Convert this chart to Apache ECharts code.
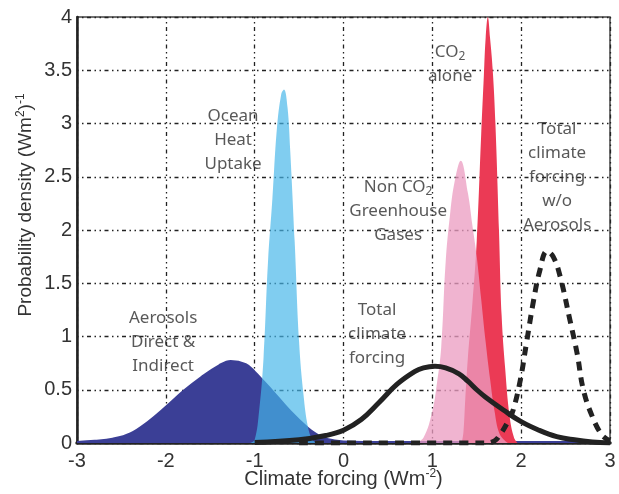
<!DOCTYPE html>
<html><head><meta charset="utf-8">
<script src="https://cdn.jsdelivr.net/npm/echarts@6/dist/echarts.min.js"></script>
<style>html,body{margin:0;padding:0;background:#fff}#c{width:619px;height:494px}</style>
</head><body><div id="c"></div>
<script>
// ---- data ----
const xTicks = [-3, -2, -1, 0, 1, 2, 3];
const yTicks = [0, 0.5, 1, 1.5, 2, 2.5, 3, 3.5, 4];

const aerosolX = [-3, -2.8, -2.6, -2.4, -2.2, -2.0, -1.8, -1.6, -1.4, -1.27, -1.1, -1.0, -0.9, -0.8, -0.6, -0.4, -0.3, -0.2, 0, 0.5, 3];
const aerosolY = [0.01, 0.02, 0.04, 0.09, 0.2, 0.34, 0.49, 0.62, 0.73, 0.77, 0.74, 0.67, 0.58, 0.49, 0.3, 0.14, 0.08, 0.04, 0.015, 0.01, 0.01];

const oceanX = [-1.05, -1.0, -0.95, -0.9, -0.85, -0.8, -0.75, -0.7, -0.67, -0.63, -0.6, -0.55, -0.5, -0.45, -0.4, -0.35, -0.3];
const oceanY = [0, 0.03, 0.3, 0.8, 1.7, 2.3, 2.95, 3.28, 3.32, 3.15, 2.75, 1.9, 0.95, 0.45, 0.15, 0.03, 0];

const co2X = [1.33, 1.35, 1.37, 1.4, 1.45, 1.5, 1.55, 1.58, 1.6, 1.625, 1.65, 1.68, 1.71, 1.75, 1.78, 1.82, 1.87, 1.92, 1.96];
const co2Y = [0, 0.1, 0.4, 0.8, 1.3, 1.9, 2.9, 3.45, 3.8, 4.0, 3.8, 3.5, 3.0, 2.0, 1.2, 0.7, 0.25, 0.05, 0];

const nonCo2X = [0.8, 0.9, 1.0, 1.05, 1.1, 1.15, 1.2, 1.25, 1.32, 1.4, 1.45, 1.5, 1.55, 1.6, 1.65, 1.7, 1.76, 1.85];
const nonCo2Y = [0, 0.05, 0.3, 0.55, 0.9, 1.7, 2.15, 2.45, 2.65, 2.35, 2.05, 1.75, 1.35, 0.95, 0.6, 0.3, 0.08, 0];

const totalX = [-1, -0.5, -0.2, 0, 0.2, 0.4, 0.6, 0.8, 0.9, 1.03, 1.15, 1.3, 1.4, 1.5, 1.6, 1.8, 2.0, 2.2, 2.4, 2.6, 2.8, 3];
const totalY = [0.005, 0.03, 0.07, 0.12, 0.22, 0.38, 0.55, 0.67, 0.705, 0.72, 0.705, 0.65, 0.58, 0.5, 0.43, 0.31, 0.2, 0.12, 0.06, 0.03, 0.01, 0];

const noAerosolX = [-0.5, 1.6, 1.7, 1.76, 1.85, 1.91, 1.99, 2.06, 2.14, 2.21, 2.29, 2.36, 2.44, 2.55, 2.63, 2.7, 2.8, 2.91, 3.0];
const noAerosolY = [0, 0, 0.02, 0.075, 0.2, 0.31, 0.59, 0.94, 1.34, 1.62, 1.8, 1.75, 1.56, 1.15, 0.84, 0.5, 0.25, 0.075, 0.02];

const labelX = [-1.243, 1.2, 0.615, 2.405, -2.03, 0.378];
const labelY = [2.845, 3.56, 2.18, 2.50, 0.95, 1.02];
const labelText = [
  'Ocean\nHeat\nUptake',
  'CO{s|2}\nalone',
  'Non CO{s|2}\nGreenhouse\nGases',
  'Total\nclimate\nforcing\nw/o\nAerosols',
  'Aerosols\nDirect &\nIndirect',
  'Total\nclimate\nforcing'
];

const xName = 'Climate forcing (Wm{sup|-2})';
const yName = 'Probability density (Wm{sup|2}){sup|-1}';

// ---- build ----
const pairs = (xs, ys) => xs.map((x, i) => [x, ys[i]]);
const gridLine = { show: true, lineStyle: { color: '#222', width: 1.3, type: [1.5, 3.5, 1.5, 3.5, 4, 3.5] } };
const tickFont = { fontFamily: 'Liberation Sans', fontSize: 20, color: '#333' };
const supStyle = { fontFamily: 'Liberation Sans', fontSize: 12, color: '#333', padding: [0, 0, 10, 0] };

const chart = echarts.init(document.getElementById('c'), null, { renderer: 'canvas' });
chart.setOption({
  animation: false,
  backgroundColor: '#fff',
  grid: { left: 77, right: 9, top: 17, bottom: 51, show: true, borderColor: '#444', borderWidth: 1.5,
    backgroundColor: 'transparent', containLabel: false, outerBoundsMode: 'none' },
  xAxis: {
    type: 'value', min: xTicks[0], max: xTicks[xTicks.length - 1], interval: 1,
    axisLine: { show: true, onZero: false, lineStyle: { color: '#222', width: 3.5 } },
    axisTick: { show: false },
    axisLabel: Object.assign({ margin: 8 }, tickFont),
    splitLine: gridLine,
    name: xName, nameLocation: 'middle', nameGap: 25, nameMoveOverlap: false,
    nameTextStyle: { fontFamily: 'Liberation Sans', fontSize: 20, color: '#333', rich: { sup: supStyle } }
  },
  yAxis: {
    type: 'value', min: yTicks[0], max: yTicks[yTicks.length - 1], interval: 0.5,
    axisLine: { show: true, onZero: false, lineStyle: { color: '#222', width: 2.5 } },
    axisTick: { show: false },
    axisLabel: Object.assign({ margin: 5 }, tickFont),
    splitLine: gridLine,
    name: yName, nameLocation: 'middle', nameGap: 40, nameRotate: 90, nameMoveOverlap: false,
    nameTextStyle: { fontFamily: 'Liberation Sans', fontSize: 19, color: '#333', padding: [0, 0, 0, 50], rich: { sup: supStyle } }
  },
  series: [
    { name: 'Aerosols', type: 'line', data: pairs(aerosolX, aerosolY), smooth: 0.4, symbol: 'none', z: 2,
      lineStyle: { color: '#3b3f96', width: 2 }, areaStyle: { color: '#3b3f96', opacity: 1 } },
    { name: 'Ocean', type: 'line', data: pairs(oceanX, oceanY), smooth: 0.4, symbol: 'none', z: 3,
      lineStyle: { width: 0 }, areaStyle: { color: 'rgb(68,181,233)', opacity: 0.68 } },
    { name: 'CO2', type: 'line', data: pairs(co2X, co2Y), smooth: 0.4, symbol: 'none', z: 4,
      lineStyle: { width: 0 }, areaStyle: { color: '#eb3a55', opacity: 1 } },
    { name: 'NonCO2', type: 'line', data: pairs(nonCo2X, nonCo2Y), smooth: 0.4, symbol: 'none', z: 5,
      lineStyle: { width: 0 }, areaStyle: { color: 'rgb(235,157,193)', opacity: 0.76 } },
    { name: 'Total', type: 'line', data: pairs(totalX, totalY), smooth: 0.4, symbol: 'none', z: 6,
      lineStyle: { color: '#222', width: 5 } },
    { name: 'NoAerosol', type: 'line', data: pairs(noAerosolX, noAerosolY), smooth: 0.4, symbol: 'none', z: 7,
      lineStyle: { color: '#222', width: 5, type: [9, 7] } },
    { name: 'labels', type: 'scatter', symbolSize: 0, z: 8, silent: true,
      data: labelX.map((x, i) => ({ value: [x, labelY[i]], label: { formatter: labelText[i] } })),
      label: { show: true, position: 'inside', align: 'center', verticalAlign: 'middle',
        fontFamily: 'Noto Sans', fontSize: 17, lineHeight: 24, color: '#2e2e2e',
        rich: { s: { fontFamily: 'Noto Sans', fontSize: 12, color: '#2e2e2e', padding: [10, 0, 0, 0] } } } }
  ]
});
</script></body></html>
